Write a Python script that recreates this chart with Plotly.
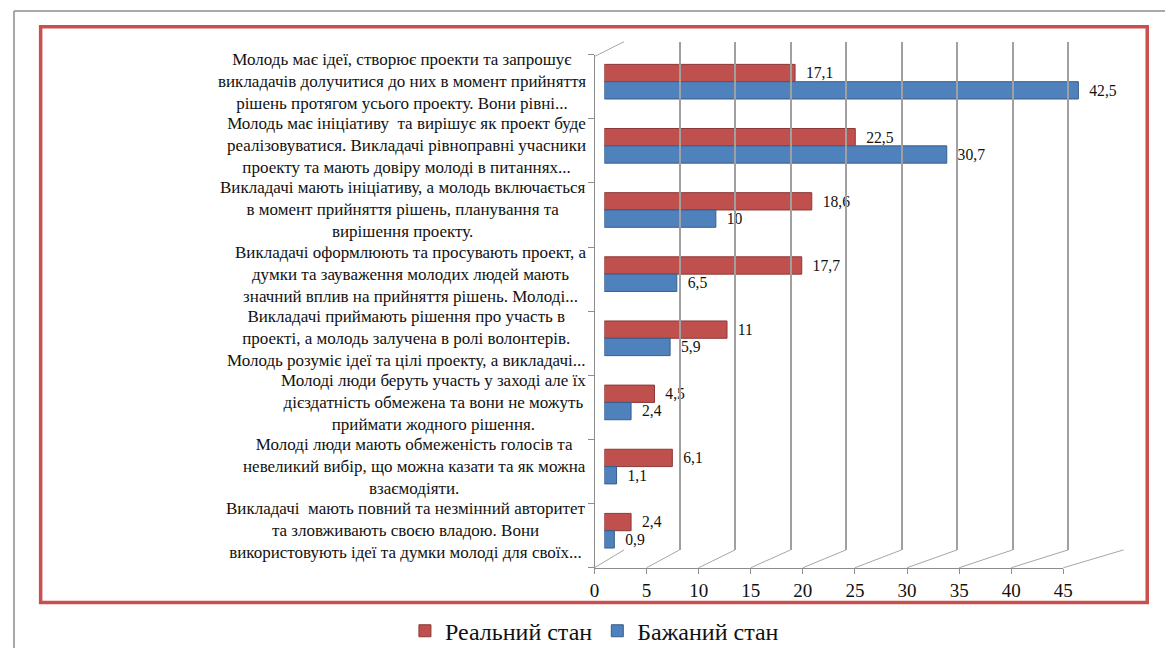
import plotly.graph_objects as go

categories = [
    "Молодь має ідеї, створює проекти та запрошує<br>викладачів долучитися до них в момент прийняття<br>рішень протягом усього проекту. Вони рівні...",
    "Молодь має ініціативу  та вирішує як проект буде<br>реалізовуватися. Викладачі рівноправні учасники<br>проекту та мають довіру молоді в питаннях...",
    "Викладачі мають ініціативу, а молодь включається<br>в момент прийняття рішень, планування та<br>вирішення проекту.",
    "Викладачі оформлюють та просувають проект, а<br>думки та зауваження молодих людей мають<br>значний вплив на прийняття рішень. Молоді...",
    "Викладачі приймають рішення про участь в<br>проекті, а молодь залучена в ролі волонтерів.<br>Молодь розуміє ідеї та цілі проекту, а викладачі...",
    "Молоді люди беруть участь у заході але їх<br>дієздатність обмежена та вони не можуть<br>приймати жодного рішення.",
    "Молоді люди мають обмеженість голосів та<br>невеликий вибір, що можна казати та як можна<br>взаємодіяти.",
    "Викладачі  мають повний та незмінний авторитет<br>та зловживають своєю владою. Вони<br>використовують ідеї та думки молоді для своїх...",
]
real_state = [17.1, 22.5, 18.6, 17.7, 11, 4.5, 6.1, 2.4]
desired_state = [42.5, 30.7, 10, 6.5, 5.9, 2.4, 1.1, 0.9]
series_names = ["Реальний стан", "Бажаний стан"]
x_ticks = [0, 5, 10, 15, 20, 25, 30, 35, 40, 45]

RED = "#C0504D"
BLUE = "#4F81BD"
FONT = "Liberation Serif"
OFF = 8  # default body margin of the html page
W, H = 1175 - OFF, 654 - OFF


def fmt(v):
    return "\u00a0\u00a0" + ("%g" % v).replace(".", ",")


def px_x(p):
    return (p - OFF) / W


def px_y(p):
    return 1 - (p - OFF) / H


cat_ids = list(range(len(categories)))

fig = go.Figure()
fig.add_trace(go.Bar(
    y=cat_ids, x=real_state, orientation="h", name=series_names[0],
    marker=dict(color=RED, line=dict(color="#8C3836", width=1)),
    text=[fmt(v) for v in real_state], textposition="outside",
    textfont=dict(family=FONT, size=19, color="#111111"), cliponaxis=False,
))
fig.add_trace(go.Bar(
    y=cat_ids, x=desired_state, orientation="h", name=series_names[1],
    marker=dict(color=BLUE, line=dict(color="#385D8A", width=1)),
    text=[fmt(v) for v in desired_state], textposition="outside",
    textfont=dict(family=FONT, size=19, color="#111111"), cliponaxis=False,
))
# invisible helpers so that the decorative 3D wall / floor axes are rendered
fig.add_trace(go.Scatter(x=[x_ticks[0]], y=[0], xaxis="x2", yaxis="y2", mode="markers",
                         marker=dict(opacity=0), showlegend=False, hoverinfo="skip"))
fig.add_trace(go.Scatter(x=[x_ticks[0]], y=[0], xaxis="x3", yaxis="y3", mode="markers",
                         marker=dict(opacity=0), showlegend=False, hoverinfo="skip"))

annotations = []
for i, c in zip(cat_ids, categories):
    annotations.append(dict(
        x=px_x(590), xref="paper", xanchor="right",
        y=i, yref="y", yanchor="middle",
        text=c, showarrow=False, align="center",
        font=dict(family=FONT, size=17, color="#111111"),
    ))

bar_x_dom = [px_x(607), px_x(1115.5)]
bar_y_dom = [px_y(568), px_y(50)]
back_x_dom = [px_x(627), px_x(1133)]
back_y_dom = [px_y(555), px_y(42)]
front_x_dom = [px_x(597), px_x(1072)]
front_y = px_y(573)

shapes = []
for v in x_ticks:
    fx = front_x_dom[0] + (front_x_dom[1] - front_x_dom[0]) * v / 45
    bx = back_x_dom[0] + (back_x_dom[1] - back_x_dom[0]) * v / 45
    shapes.append(dict(type="line", xref="paper", yref="paper",
                       x0=fx, y0=front_y, x1=bx, y1=back_y_dom[0],
                       line=dict(color="#A6A6A6", width=1)))
shapes.append(dict(type="line", xref="paper", yref="paper",
                   x0=px_x(597), y0=px_y(57), x1=px_x(627), y1=px_y(42),
                   line=dict(color="#A6A6A6", width=1)))
shapes.append(dict(type="line", xref="paper", yref="paper",
                   x0=px_x(9), y0=px_y(11), x1=1, y1=px_y(11),
                   line=dict(color="#8C8C8C", width=1.5)))
shapes.append(dict(type="line", xref="paper", yref="paper",
                   x0=px_x(9), y0=px_y(11), x1=px_x(9), y1=0,
                   line=dict(color="#8C8C8C", width=1.5)))
shapes.append(dict(type="rect", xref="paper", yref="paper",
                   x0=px_x(36), y0=px_y(608), x1=px_x(1157), y1=px_y(27),
                   line=dict(color="#C9504E", width=3.5), layer="below"))

fig.update_layout(
    width=W, height=H,
    margin=dict(l=0, r=0, t=0, b=0),
    paper_bgcolor="white", plot_bgcolor="rgba(0,0,0,0)",
    barmode="group", bargap=0.46, bargroupgap=0.0,
    separators=", ",
    font=dict(family=FONT, color="#111111"),
    xaxis=dict(domain=bar_x_dom, range=[0, 45], anchor="y",
               showgrid=False, zeroline=False, showticklabels=False, showline=False),
    yaxis=dict(domain=bar_y_dom, anchor="x", range=[len(categories) - 0.5, -0.5],
               showgrid=False, zeroline=False, showticklabels=False, showline=False),
    xaxis2=dict(domain=back_x_dom, range=[0, 45], anchor="y2", dtick=5, tick0=0,
                showgrid=True, gridcolor="#A0A0A0", gridwidth=1.5,
                zeroline=False, showticklabels=False, showline=False, ticks=""),
    yaxis2=dict(domain=back_y_dom, range=[0, 1], anchor="x2",
                showgrid=False, zeroline=False, showticklabels=False, showline=False),
    xaxis3=dict(domain=front_x_dom, range=[0, 45], anchor="free", position=front_y,
                tickvals=x_ticks, ticktext=[str(t) for t in x_ticks],
                ticks="outside", ticklen=5, tickcolor="#8C8C8C",
                showline=True, linecolor="#8C8C8C", linewidth=1,
                showgrid=False, zeroline=False,
                tickfont=dict(family=FONT, size=19, color="#111111")),
    yaxis3=dict(domain=[px_y(573), px_y(55)], range=[0, 8], anchor="free",
                position=px_x(597), dtick=1, tick0=0,
                ticks="outside", ticklen=6, tickcolor="#8C8C8C",
                showline=True, linecolor="#8C8C8C", linewidth=1,
                showgrid=False, zeroline=False, showticklabels=False),
    legend=dict(orientation="h", x=px_x(597), xanchor="center", y=px_y(637), yanchor="middle",
                font=dict(family=FONT, size=24, color="#111111"),
                itemwidth=30, traceorder="normal", bgcolor="rgba(0,0,0,0)"),
    annotations=annotations,
    shapes=shapes,
)

fig.write_html("out.html")
